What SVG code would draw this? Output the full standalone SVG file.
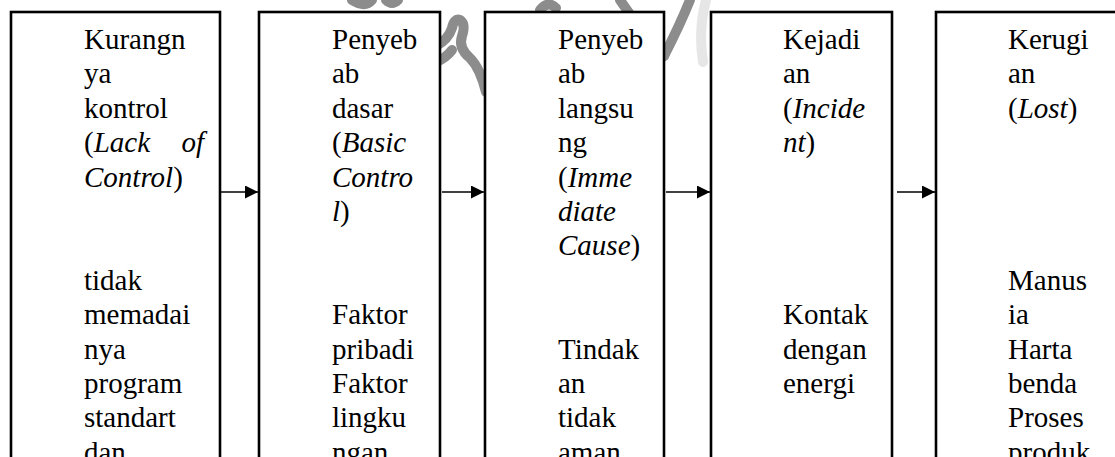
<svg xmlns="http://www.w3.org/2000/svg" width="1115" height="457" viewBox="0 0 1115 457">
  <style>
    .box { fill: #ffffff; stroke: #000000; stroke-width: 2.6; }
    .wire { stroke: #000000; stroke-width: 1.3; fill: none; marker-end: url(#head); }
    .mark { fill: none; stroke: #8c8c8c; stroke-width: 10; stroke-linecap: round; stroke-linejoin: round; }
    .mark-faint { fill: none; stroke: #e6e6e6; stroke-width: 10; stroke-linecap: round; }
    .t { font-family: 'Liberation Serif', 'Times New Roman', serif; font-size: 29px; fill: #000000; }
    .it { font-style: italic; }
  </style>
  <defs>
    <marker id="head" markerUnits="userSpaceOnUse" markerWidth="14" markerHeight="14" refX="13" refY="6.5" orient="auto">
      <path d="M0,0 L13,6.5 L0,13 Z" fill="#000000"/>
    </marker>
  </defs>

  <rect width="1115" height="457" fill="#ffffff"/>

  <!-- background stamp strokes -->
  <g id="stamp">
    <path class="mark-faint" d="M706,0 Q698,30 703,62"/>
    <path class="mark" d="M352,0 Q365,8 372,0"/>
    <path class="mark" d="M386,0 Q392,6 398,0"/>
    <path class="mark" d="M436,46 Q448,40 452,28 Q454,18 460,20 Q466,24 462,36 Q458,48 470,58 Q480,68 486,92"/>
    <path class="mark" d="M452,50 Q446,58 436,62"/>
    <path class="mark" d="M540,10 Q548,0 556,8"/>
    <path class="mark" d="M620,0 Q640,30 664,56"/>
    <path class="mark" d="M690,0 Q680,25 664,56"/>
  </g>

  <g id="node-lack-of-control" class="t">
    <rect class="box" x="11" y="12" width="209" height="470"/>
    <text x="84" y="49">Kurangn</text>
    <text x="84" y="83.4">ya</text>
    <text x="84" y="117.8">kontrol</text>
    <text x="84" y="152.2">(<tspan class="it">Lack</tspan></text>
    <text x="204" y="152.2" text-anchor="end" class="it">of</text>
    <text x="84" y="186.6"><tspan class="it">Control</tspan>)</text>
    <text x="84" y="289.8">tidak</text>
    <text x="84" y="324.2">memadai</text>
    <text x="84" y="358.6">nya</text>
    <text x="84" y="393">program</text>
    <text x="84" y="427.4">standart</text>
    <text x="84" y="461.8">dan</text>
  </g>

  <g id="node-basic-control" class="t">
    <rect class="box" x="259" y="12" width="181" height="470"/>
    <text x="332" y="49">Penyeb</text>
    <text x="332" y="83.4">ab</text>
    <text x="332" y="117.8">dasar</text>
    <text x="332" y="152.2">(<tspan class="it">Basic</tspan></text>
    <text x="332" y="186.6" class="it">Contro</text>
    <text x="332" y="221"><tspan class="it">l</tspan>)</text>
    <text x="332" y="324.2">Faktor</text>
    <text x="332" y="358.6">pribadi</text>
    <text x="332" y="393">Faktor</text>
    <text x="332" y="427.4">lingku</text>
    <text x="332" y="461.8">ngan</text>
  </g>

  <g id="node-immediate-cause" class="t">
    <rect class="box" x="485" y="12" width="179" height="470"/>
    <text x="558" y="49">Penyeb</text>
    <text x="558" y="83.4">ab</text>
    <text x="558" y="117.8">langsu</text>
    <text x="558" y="152.2">ng</text>
    <text x="558" y="186.6">(<tspan class="it">Imme</tspan></text>
    <text x="558" y="221" class="it">diate</text>
    <text x="558" y="255.4"><tspan class="it">Cause</tspan>)</text>
    <text x="558" y="358.6">Tindak</text>
    <text x="558" y="393">an</text>
    <text x="558" y="427.4">tidak</text>
    <text x="558" y="461.8">aman</text>
  </g>

  <g id="node-incident" class="t">
    <rect class="box" x="711" y="12" width="181" height="470"/>
    <text x="783" y="49">Kejadi</text>
    <text x="783" y="83.4">an</text>
    <text x="783" y="117.8">(<tspan class="it">Incide</tspan></text>
    <text x="783" y="152.2"><tspan class="it">nt</tspan>)</text>
    <text x="783" y="324.2">Kontak</text>
    <text x="783" y="358.6">dengan</text>
    <text x="783" y="393">energi</text>
  </g>

  <g id="node-lost" class="t">
    <rect class="box" x="936" y="12" width="200" height="470"/>
    <text x="1008" y="49">Kerugi</text>
    <text x="1008" y="83.4">an</text>
    <text x="1008" y="117.8">(<tspan class="it">Lost</tspan>)</text>
    <text x="1008" y="289.8">Manus</text>
    <text x="1008" y="324.2">ia</text>
    <text x="1008" y="358.6">Harta</text>
    <text x="1008" y="393">benda</text>
    <text x="1008" y="427.4">Proses</text>
    <text x="1008" y="461.8">produk</text>
  </g>

  <g id="connectors">
    <line class="wire" x1="221" y1="192" x2="258" y2="192"/>
    <line class="wire" x1="442" y1="192" x2="484" y2="192"/>
    <line class="wire" x1="666" y1="192" x2="710" y2="192"/>
    <line class="wire" x1="897" y1="192" x2="935" y2="192"/>
  </g>
</svg>
